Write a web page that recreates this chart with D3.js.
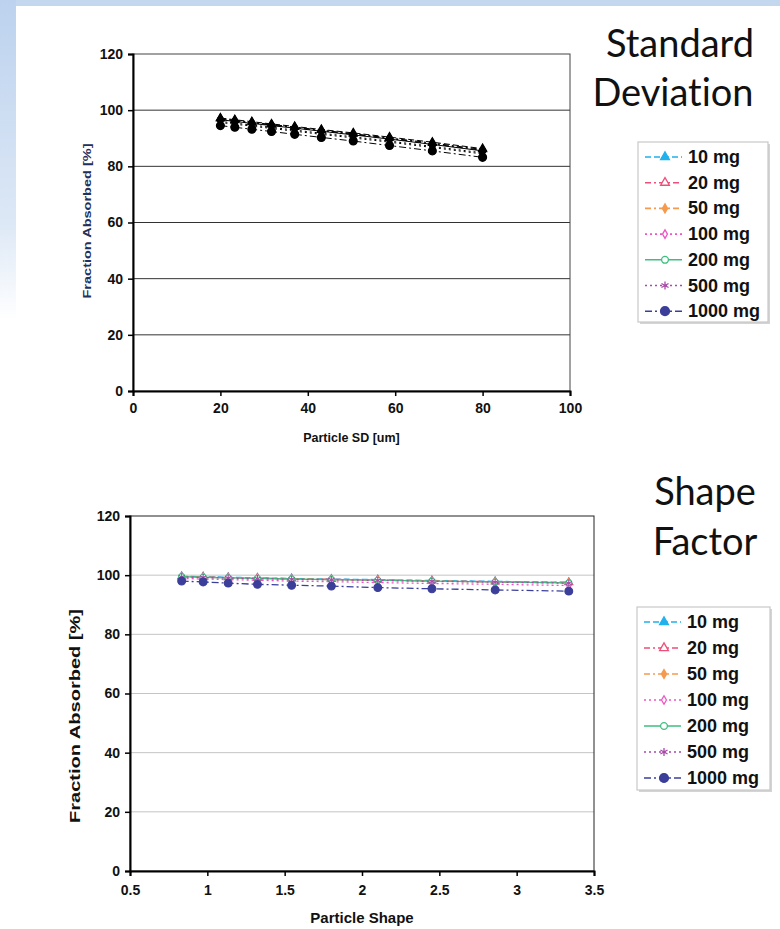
<!DOCTYPE html>
<html><head><meta charset="utf-8">
<script src="https://cdn.jsdelivr.net/npm/d3@7"></script>
<style>html,body{margin:0;padding:0;background:#fff;}svg{display:block;}</style>
</head><body>
<script>
// ---------- DATA ----------
const seriesNames = ["10 mg","20 mg","50 mg","100 mg","200 mg","500 mg","1000 mg"];
const sdX = [20, 23.3, 27.2, 31.7, 37, 43.1, 50.4, 58.7, 68.5, 80];
const sd10   = [97.2, 96.6, 95.9, 95.1, 94.2, 93.1, 91.9, 90.4, 88.6, 86.3];
const sd20   = [97.0, 96.4, 95.7, 94.9, 94.0, 92.9, 91.6, 90.1, 88.3, 86.0];
const sd50   = [96.8, 96.2, 95.5, 94.7, 93.8, 92.7, 91.4, 89.9, 88.0, 85.7];
const sd100  = [96.0, 95.4, 94.7, 93.9, 92.9, 91.8, 90.5, 89.0, 87.1, 84.8];
const sd200  = [96.6, 96.0, 95.3, 94.5, 93.6, 92.5, 91.2, 89.7, 87.8, 85.5];
const sd500  = [95.6, 95.0, 94.3, 93.5, 92.5, 91.4, 90.1, 88.6, 86.7, 84.4];
const sd1000 = [94.5, 93.9, 93.2, 92.4, 91.4, 90.3, 89.0, 87.4, 85.5, 83.2];

const shapeX = [0.834, 0.973, 1.135, 1.324, 1.545, 1.802, 2.102, 2.452, 2.861, 3.337];
const sh10   = [99.6, 99.5, 99.3, 99.1, 98.9, 98.7, 98.5, 98.2, 97.9, 97.6];
const sh20   = [99.5, 99.4, 99.2, 99.0, 98.8, 98.6, 98.4, 98.1, 97.8, 97.5];
const sh50   = [99.4, 99.3, 99.1, 98.9, 98.7, 98.5, 98.3, 98.0, 97.7, 97.4];
const sh100  = [98.9, 98.7, 98.5, 98.3, 98.0, 97.8, 97.5, 97.2, 96.9, 96.5];
const sh200  = [99.5, 99.3, 99.1, 98.9, 98.7, 98.5, 98.3, 98.0, 97.7, 97.4];
const sh500  = [99.4, 99.2, 99.0, 98.8, 98.6, 98.4, 98.2, 97.9, 97.6, 97.3];
const sh1000 = [98.0, 97.7, 97.3, 96.9, 96.6, 96.3, 95.8, 95.4, 95.0, 94.6];

const sdYTicks = [0, 20, 40, 60, 80, 100, 120];
const sdXTicks = [0, 20, 40, 60, 80, 100];
const shYTicks = [0, 20, 40, 60, 80, 100, 120];
const shXTicks = [0.5, 1, 1.5, 2, 2.5, 3, 3.5];

// ---------- STYLES ----------
const colors  = ["#21b1ec", "#ee4f78", "#f59a4e", "#ee55c4", "#3dbf7e", "#a84aa8", "#3b3f9a"];
const dashes  = ["6,3", "6,3,2,3", "6,3,2,3", "2,3", null, "2,3", "7,3,2,3"];
const symbols = [
  {type: d3.symbolTriangle, size: 26, fill: true},
  {type: d3.symbolTriangle, size: 26, fill: false},
  {type: d3.symbolDiamond, size: 18, fill: true},
  {type: d3.symbolDiamond, size: 16, fill: false},
  {type: d3.symbolCircle, size: 28, fill: false},
  {type: d3.symbolAsterisk, size: 36, fill: false},
  {type: d3.symbolCircle, size: 48, fill: true}
];

const W = 780, H = 929;
const svg = d3.select("body").append("svg").attr("width", W).attr("height", H);

// background: light blue frame fading
const defs = svg.append("defs");
const lg = defs.append("linearGradient").attr("id","leftgrad").attr("x1",0).attr("y1",0).attr("x2",0).attr("y2",1);
lg.append("stop").attr("offset","0%").attr("stop-color","#bcd2ee");
lg.append("stop").attr("offset","70%").attr("stop-color","#dde8f6");
lg.append("stop").attr("offset","100%").attr("stop-color","#ffffff");
svg.append("rect").attr("x",0).attr("y",0).attr("width",W).attr("height",6).attr("fill","#c3d7ef");
svg.append("rect").attr("x",0).attr("y",0).attr("width",16).attr("height",320).attr("fill","url(#leftgrad)");

function drawChart(cfg) {
  const g = svg.append("g");
  const x = d3.scaleLinear().domain(cfg.xDomain).range([cfg.left, cfg.right]);
  const y = d3.scaleLinear().domain([0, 120]).range([cfg.bottom, cfg.top]);

  // gridlines
  g.append("g").selectAll("line").data(cfg.yTicks.filter(t => t > 0 && t < 120)).join("line")
    .attr("x1", cfg.left).attr("x2", cfg.right)
    .attr("y1", d => y(d)).attr("y2", d => y(d))
    .attr("stroke", cfg.gridColor).attr("stroke-width", 1);

  // border
  g.append("rect").attr("x", cfg.left).attr("y", cfg.top)
    .attr("width", cfg.right - cfg.left).attr("height", cfg.bottom - cfg.top)
    .attr("fill", "none").attr("stroke", cfg.borderColor).attr("stroke-width", 1);

  // axes
  const yAx = g.append("g").attr("transform", `translate(${cfg.left},0)`)
    .call(d3.axisLeft(y).tickValues(cfg.yTicks).tickSize(5).tickPadding(5).tickFormat(d3.format("d")));
  const xAx = g.append("g").attr("transform", `translate(0,${cfg.bottom})`)
    .call(d3.axisBottom(x).tickValues(cfg.xTicks).tickSize(5).tickPadding(cfg.xPad).tickFormat(d => String(d)));
  [yAx, xAx].forEach(a => {
    a.select(".domain").attr("stroke", "#000").attr("stroke-width", 2);
    a.selectAll(".tick line").attr("stroke", "#000").attr("stroke-width", 1.5);
    a.selectAll("text").attr("font-family", "Liberation Sans, Arial, sans-serif")
      .attr("font-weight", "bold").attr("font-size", cfg.tickFont).attr("fill", "#111");
  });

  // axis titles
  g.append("text").attr("x", (cfg.left + cfg.right) / 2).attr("y", cfg.xTitleY)
    .attr("text-anchor", "middle").attr("font-family", "Liberation Sans, Arial, sans-serif")
    .attr("font-weight", "bold").attr("font-size", cfg.xTitleFont).attr("fill", "#111").text(cfg.xTitle);
  g.append("text").attr("transform", `translate(${cfg.yTitleX},${cfg.yTitleCY}) rotate(-90)`)
    .attr("text-anchor", "middle").attr("font-family", "Liberation Sans, Arial, sans-serif")
    .attr("font-weight", "bold").attr("font-size", cfg.yTitleFont).attr("fill", cfg.yTitleColor)
    .attr("textLength", cfg.yTitleLen).attr("lengthAdjust", "spacingAndGlyphs").text(cfg.yTitle);

  // series
  const line = d3.line().x(d => x(d[0])).y(d => y(d[1]));
  cfg.series.forEach((vals, i) => {
    const pts = cfg.xVals.map((xv, j) => [xv, vals[j]]);
    const col = cfg.mono ? "#000" : colors[i];
    g.append("path").datum(pts).attr("d", line).attr("fill", "none")
      .attr("stroke", col).attr("stroke-width", cfg.mono ? 1 : 1.3)
      .attr("stroke-dasharray", dashes[i]);
    const sym = symbols[i];
    g.append("g").selectAll("path").data(pts).join("path")
      .attr("transform", d => `translate(${x(d[0])},${y(d[1])})`)
      .attr("d", d3.symbol().type(sym.type).size(sym.size))
      .attr("fill", cfg.mono ? "#000" : (sym.fill ? col : "#fff"))
      .attr("stroke", col).attr("stroke-width", cfg.mono ? 1.3 : 1.1);
  });

  // legend
  const L = cfg.legend;
  g.append("rect").attr("x", L.x + 2).attr("y", L.y + 2).attr("width", L.w).attr("height", L.h).attr("fill", "#d4d4d4");
  g.append("rect").attr("x", L.x).attr("y", L.y).attr("width", L.w).attr("height", L.h)
    .attr("fill", "#fff").attr("stroke", "#c8c8c8").attr("stroke-width", 1.2);
  seriesNames.forEach((name, i) => {
    const yy = L.y + L.first + i * L.step;
    const lgG = g.append("g");
    lgG.append("line").attr("x1", L.x + 7).attr("x2", L.x + 44).attr("y1", yy).attr("y2", yy)
      .attr("stroke", colors[i]).attr("stroke-width", 1.6).attr("stroke-dasharray", dashes[i]);
    lgG.append("path").attr("transform", `translate(${L.x + 27},${yy})`)
      .attr("d", d3.symbol().type(symbols[i].type).size(symbols[i].size * 1.3))
      .attr("fill", symbols[i].fill ? colors[i] : "#fff").attr("stroke", colors[i]).attr("stroke-width", 1.3);
    lgG.append("text").attr("x", L.x + 50).attr("y", yy + 6)
      .attr("font-family", "Liberation Sans, Arial, sans-serif").attr("font-weight", "bold")
      .attr("font-size", 18).attr("fill", "#111").text(name);
  });

  // big titles
  cfg.titles.forEach(t => {
    g.append("text").attr("x", t.x).attr("y", t.y).attr("text-anchor", "middle")
      .style("font-variant-ligatures", "none").style("font-feature-settings", "'liga' 0")
      .attr("font-family", "Lato, 'Open Sans', sans-serif").attr("font-size", 38).attr("fill", "#111").text(t.text);
  });
}

drawChart({
  xDomain: [0, 100], left: 133, right: 570, top: 54, bottom: 391,
  xTicks: sdXTicks, yTicks: sdYTicks, xVals: sdX,
  series: [sd10, sd20, sd50, sd100, sd200, sd500, sd1000], mono: true,
  gridColor: "#333", borderColor: "#444", tickFont: 14, xPad: 7,
  xTitle: "Particle SD [um]", xTitleY: 442, xTitleFont: 12.5,
  yTitle: "Fraction Absorbed [%]", yTitleX: 91, yTitleCY: 221, yTitleFont: 11, yTitleColor: "#22305a", yTitleLen: 155,
  legend: {x: 638, y: 142, w: 130, h: 180, first: 15, step: 25.7},
  titles: [{text: "Standard", x: 680, y: 57}, {text: "Deviation", x: 673, y: 106}]
});

drawChart({
  xDomain: [0.5, 3.5], left: 130, right: 594, top: 516, bottom: 871,
  xTicks: shXTicks, yTicks: shYTicks, xVals: shapeX,
  series: [sh10, sh20, sh50, sh100, sh200, sh500, sh1000], mono: false,
  gridColor: "#c4c4c4", borderColor: "#222", tickFont: 14, xPad: 9,
  xTitle: "Particle Shape", xTitleY: 923, xTitleFont: 15,
  yTitle: "Fraction Absorbed [%]", yTitleX: 80, yTitleCY: 716, yTitleFont: 15, yTitleColor: "#111", yTitleLen: 214,
  legend: {x: 637, y: 607, w: 133, h: 183, first: 15, step: 26},
  titles: [{text: "Shape", x: 705, y: 505}, {text: "Factor", x: 705, y: 555}]
});
</script>
</body></html>
